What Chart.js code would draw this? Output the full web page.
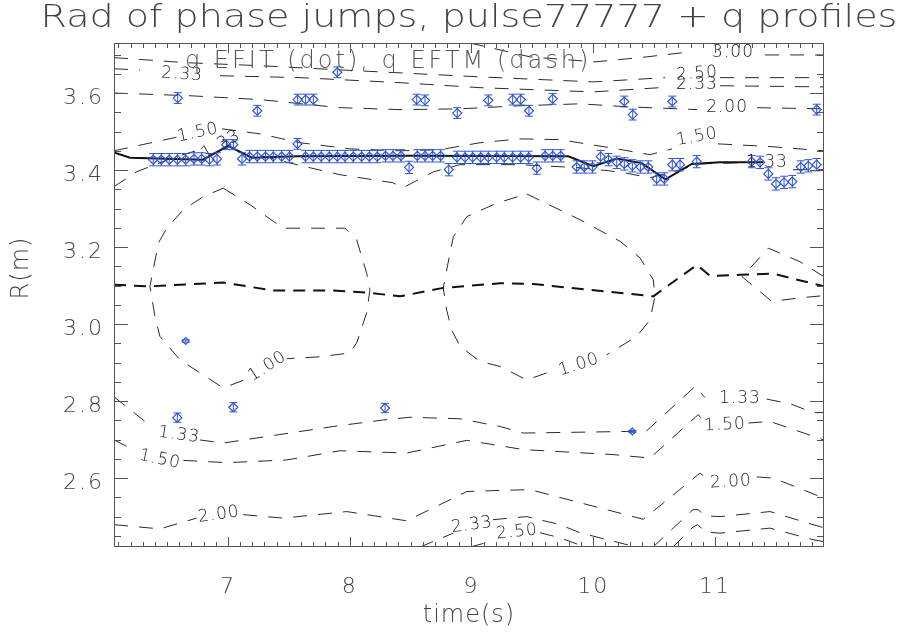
<!DOCTYPE html>
<html>
<head>
<meta charset="utf-8">
<script src="https://cdn.jsdelivr.net/npm/chart.js@4.4.0/dist/chart.umd.min.js"></script>
<style>
  html, body { margin: 0; padding: 0; background: #fff; }
  #wrap { width: 897px; height: 639px; }
</style>
</head>
<body>
<div id="wrap"><canvas id="chart" width="897" height="639"></canvas></div>
<script>
// axis ticks
const xTickValues = [7, 8, 9, 10, 11];
const yTickValues = [2.6, 2.8, 3.0, 3.2, 3.4, 3.6];

// radius of phase jumps (m) vs time (s), with error
const jumpTime = [6.386, 6.452, 6.518, 6.585, 6.587, 6.584, 6.653, 6.653, 6.721, 6.784,
  6.848, 6.910, 6.986, 7.044, 7.044, 7.115, 7.177, 7.241, 7.241, 7.308,
  7.372, 7.441, 7.505, 7.571, 7.572, 7.637, 7.638, 7.701, 7.701, 7.766,
  7.832, 7.898, 7.898, 7.961, 8.029, 8.098, 8.161, 8.226, 8.294, 8.290,
  8.355, 8.421, 8.487, 8.555, 8.550, 8.618, 8.618, 8.681, 8.747, 8.813,
  8.881, 8.883, 8.947, 9.010, 9.076, 9.138, 9.138, 9.207, 9.269, 9.338,
  9.338, 9.404, 9.404, 9.470, 9.472, 9.536, 9.604, 9.667, 9.667, 9.733,
  9.864, 9.926, 9.994, 10.061, 10.125, 10.193, 10.255, 10.255, 10.321, 10.324,
  10.321, 10.387, 10.452, 10.521, 10.584, 10.649, 10.649, 10.713, 10.850, 11.301,
  11.370, 11.438, 11.501, 11.567, 11.635, 11.704, 11.766, 11.835, 11.835];
const jumpR = [3.427, 3.427, 3.427, 3.427, 3.587, 2.757, 3.427, 2.956, 3.429, 3.429,
  3.427, 3.429, 3.466, 3.466, 2.784, 3.429, 3.435, 3.435, 3.554, 3.435,
  3.435, 3.435, 3.435, 3.468, 3.583, 3.435, 3.583, 3.435, 3.583, 3.435,
  3.435, 3.435, 3.654, 3.435, 3.435, 3.435, 3.435, 3.435, 3.437, 2.782,
  3.437, 3.437, 3.407, 3.437, 3.583, 3.437, 3.581, 3.437, 3.437, 3.401,
  3.433, 3.548, 3.433, 3.433, 3.433, 3.433, 3.581, 3.433, 3.433, 3.433,
  3.583, 3.433, 3.583, 3.433, 3.554, 3.405, 3.437, 3.437, 3.585, 3.437,
  3.408, 3.408, 3.408, 3.435, 3.427, 3.420, 3.416, 3.578, 3.411, 3.544,
  2.721, 3.408, 3.408, 3.377, 3.377, 3.414, 3.578, 3.414, 3.422, 3.422,
  3.420, 3.390, 3.364, 3.368, 3.370, 3.408, 3.411, 3.414, 3.557];
const jumpErr = [0.016, 0.016, 0.016, 0.016, 0.014, 0.012, 0.016, 0.003, 0.016, 0.016,
  0.016, 0.016, 0.013, 0.013, 0.012, 0.016, 0.016, 0.016, 0.014, 0.016,
  0.016, 0.016, 0.016, 0.014, 0.014, 0.016, 0.014, 0.016, 0.014, 0.016,
  0.016, 0.016, 0.014, 0.016, 0.016, 0.016, 0.016, 0.016, 0.016, 0.012,
  0.016, 0.016, 0.016, 0.016, 0.014, 0.016, 0.014, 0.016, 0.016, 0.016,
  0.016, 0.014, 0.016, 0.016, 0.016, 0.016, 0.014, 0.016, 0.016, 0.016,
  0.014, 0.016, 0.014, 0.016, 0.014, 0.016, 0.016, 0.016, 0.014, 0.016,
  0.016, 0.016, 0.016, 0.016, 0.016, 0.016, 0.016, 0.014, 0.016, 0.014,
  0.003, 0.016, 0.016, 0.016, 0.016, 0.016, 0.014, 0.016, 0.016, 0.016,
  0.016, 0.016, 0.016, 0.016, 0.016, 0.016, 0.016, 0.016, 0.014];

// q=1 radius from EFIT (solid)
const efitTime = [6.064, 6.195, 6.795, 7.002, 7.195, 7.564, 8.495, 9.795, 10.000, 10.193, 10.398, 10.593, 10.809, 11.041, 11.397];
const efitR = [3.446, 3.432, 3.427, 3.463, 3.432, 3.436, 3.437, 3.436, 3.410, 3.430, 3.418, 3.376, 3.416, 3.420, 3.420];

// magnetic axis (heavy dash)
const axisTime = [6.064, 6.359, 6.961, 7.372, 7.862, 8.166, 8.413, 8.768, 9.234, 9.508, 10.493, 10.852, 10.959, 11.205, 11.476, 11.895];
const axisR = [3.102, 3.098, 3.108, 3.087, 3.087, 3.081, 3.072, 3.094, 3.106, 3.104, 3.072, 3.154, 3.125, 3.128, 3.131, 3.098];

// EFTM q contours; null leaves room for the contour label
const q300T = [8.988, 9.481, 10.014, 10.384, 10.795, 11.148, 11.411, 11.895];
const q300R = [3.730, 3.694, 3.681, 3.692, 3.707, null, 3.699, 3.699];
const q250TopT = [6.064, 6.647, 7.263, 8.060, 9.070, 9.998, 10.589, 10.852, 11.041, 11.895];
const q250TopR = [3.692, 3.679, 3.671, 3.658, 3.642, 3.629, 3.640, null, 3.640, 3.640];
const q233TopT = [6.064, 6.277, 6.622, 6.934, 7.591, 8.413, 9.070, 9.998, 10.548, 10.852, 11.041, 11.895];
const q233TopR = [3.663, 3.660, null, 3.645, 3.640, 3.627, 3.614, 3.603, 3.614, null, 3.619, 3.616];
const q200TopT = [6.064, 6.688, 7.263, 7.920, 8.413, 8.906, 9.398, 9.891, 10.302, 10.852, 11.099, 11.345, 11.895];
const q200TopR = [3.600, 3.593, 3.583, 3.562, 3.557, 3.559, 3.567, 3.572, 3.564, 3.557, null, 3.562, 3.559];
const q150TopT = [6.064, 6.589, 6.754, 6.951, 7.263, 7.591, 8.002, 8.413, 8.741, 9.070, 9.398, 9.727, 10.138, 10.466, 10.647, 10.852, 11.025, 11.452, 11.895];
const q150TopR = [3.450, 3.486, null, 3.507, 3.494, 3.471, 3.455, 3.450, 3.453, 3.471, 3.481, 3.479, 3.458, 3.440, 3.455, null, 3.468, 3.461, 3.450];
const q133TopT = [6.064, 6.253, 6.565, 6.770, 6.943, 7.263, 7.591, 7.920, 8.355, 8.437, 8.684, 8.906, 9.398, 9.891, 10.220, 10.466, 10.713, 10.877, 11.205, 11.427, 11.641, 11.895];
const q133TopR = [3.357, 3.396, 3.434, 3.453, null, 3.438, 3.412, 3.388, 3.367, 3.354, 3.395, 3.414, 3.414, 3.406, 3.395, 3.380, 3.401, 3.416, 3.419, null, 3.401, 3.401];
const q100AT = [6.961, 7.181, 7.372, 7.454, 7.961, 8.057, 8.139, 8.166, 8.139, 8.057, 8.002, 7.756, 7.482, 7.324, 7.126, 6.961, 6.606, 6.441, 6.400, 6.359, 6.386, 6.428, 6.497, 6.633, 6.797, 6.961];
const q100AR = [3.353, 3.310, 3.267, 3.249, 3.249, 3.219, 3.132, 3.089, 3.029, 2.951, 2.925, 2.915, 2.910, null, 2.854, 2.834, 2.907, 2.968, 3.020, 3.098, 3.141, 3.210, 3.249, 3.297, 3.331, 3.353];
const q100BT = [9.453, 9.891, 10.220, 10.384, 10.493, 10.507, 10.466, 10.357, 10.110, 9.883, 9.618, 9.453, 9.234, 9.070, 8.906, 8.837, 8.796, 8.768, 8.823, 8.851, 8.961, 9.207, 9.453];
const q100BR = [3.338, 3.271, 3.215, 3.172, 3.115, 3.072, 3.011, 2.968, 2.920, null, 2.873, 2.855, 2.890, 2.903, 2.942, 2.985, 3.037, 3.094, 3.184, 3.227, 3.279, 3.314, 3.338];
const q100CT = [11.895, 11.698, 11.438, 11.222, 11.466, 11.698, 11.895];
const q100CR = [3.123, 3.162, 3.197, 3.123, 3.059, 3.068, 3.074];
const q133LowT = [6.064, 6.386, 6.598, 6.770, 6.961, 7.318, 7.865, 8.276, 8.495, 8.906, 9.234, 9.426, 10.275, 10.439, 10.836, 10.918, 11.205, 11.425, 11.617, 11.807, 11.895];
const q133LowR = [2.811, 2.730, null, 2.699, 2.691, 2.708, 2.734, 2.751, 2.758, 2.754, 2.734, 2.717, 2.721, 2.723, 2.838, 2.809, null, 2.805, 2.793, 2.770, 2.770];
const q150LowT = [6.064, 6.222, 6.441, 6.633, 6.989, 7.482, 7.920, 8.468, 8.961, 9.234, 9.426, 10.164, 10.466, 10.863, 10.901, 11.082, 11.274, 11.452, 11.895];
const q150LowR = [2.699, 2.674, null, 2.646, 2.640, 2.647, 2.671, 2.665, 2.698, 2.684, 2.674, 2.661, 2.652, 2.765, 2.749, null, 2.743, 2.747, 2.699];
const q200LowT = [6.064, 6.441, 6.743, 6.926, 7.126, 7.454, 7.975, 8.468, 8.961, 9.234, 9.481, 10.411, 10.877, 10.943, 11.131, 11.343, 11.479, 11.895];
const q200LowR = [2.479, 2.468, 2.496, null, 2.505, 2.496, 2.513, 2.489, 2.565, 2.568, 2.570, 2.493, 2.613, 2.596, null, 2.603, 2.600, 2.548];
const q233LowT = [8.577, 8.851, 9.004, 9.177, 9.453, 9.727, 9.891, 10.277, 10.343, 10.420, 10.491, 10.819, 10.860, 10.918, 11.041, 11.452, 11.805, 11.895];
const q233LowR = [2.421, 2.457, null, 2.492, 2.500, 2.479, 2.458, 2.427, 2.421, null, 2.421, 2.518, 2.518, 2.502, 2.500, 2.513, 2.479, 2.471];
const q250LowT = [8.988, 9.177, 9.374, 9.563, 9.727, 9.932, 10.300, 10.655, 10.819, 10.860, 10.918, 11.041, 11.452, 11.805, 11.895];
const q250LowR = [2.421, 2.437, null, 2.458, 2.445, 2.421, null, 2.421, 2.473, 2.479, 2.460, 2.457, 2.470, 2.440, 2.435];

// contour labels: text, time, radius, rotation in degrees
const contourLabels = [
  { text: '3.00', t: 11.148, r: 3.705, angle: 0 },
  { text: '2.50', t: 10.852, r: 3.650, angle: -4 },
  { text: '2.33', t: 10.852, r: 3.621, angle: 0 },
  { text: '2.33', t: 6.622, r: 3.648, angle: 4 },
  { text: '2.00', t: 11.099, r: 3.563, angle: 0 },
  { text: '1.50', t: 6.754, r: 3.497, angle: -12 },
  { text: '1.33', t: 6.943, r: 3.466, angle: -30 },
  { text: '1.50', t: 10.852, r: 3.486, angle: -10 },
  { text: '1.33', t: 11.427, r: 3.419, angle: 0 },
  { text: '1.00', t: 7.324, r: 2.890, angle: -33 },
  { text: '1.00', t: 9.883, r: 2.894, angle: -18 },
  { text: '1.33', t: 6.598, r: 2.712, angle: 8 },
  { text: '1.50', t: 6.441, r: 2.648, angle: 12 },
  { text: '1.33', t: 11.205, r: 2.806, angle: 0 },
  { text: '1.50', t: 11.082, r: 2.738, angle: -3 },
  { text: '2.00', t: 6.926, r: 2.505, angle: -8 },
  { text: '2.00', t: 11.131, r: 2.590, angle: -3 },
  { text: '2.33', t: 9.004, r: 2.478, angle: -8 },
  { text: '2.50', t: 9.374, r: 2.460, angle: -6 }
];

const FONT = "'DejaVu Sans', sans-serif";
const WEIGHT = 200;
const INK = '#444';
const JUMP_BLUE = '#2f55d4';

const toPoints = (ts, rs) => ts.map((t, i) => ({ x: t, y: rs[i] }));

function contour(ts, rs) {
  return {
    type: 'line',
    data: toPoints(ts, rs),
    borderColor: '#2a2a2a',
    borderWidth: 1,
    borderDash: [14, 11],
    pointRadius: 0,
    spanGaps: false,
    tension: 0
  };
}

// slightly open lettering for the tick labels
const wideText = {
  id: 'wideText',
  beforeDraw(chart) {
    chart.ctx.letterSpacing = '2px';
  }
};

// vertical error bars under the diamonds
const errorBars = {
  id: 'errorBars',
  beforeDatasetDraw(chart, args) {
    if (args.index !== 0) return;
    const { ctx, scales: { x, y } } = chart;
    ctx.save();
    ctx.strokeStyle = JUMP_BLUE;
    ctx.lineWidth = 1;
    ctx.beginPath();
    jumpTime.forEach((t, i) => {
      const px = x.getPixelForValue(t);
      const y0 = y.getPixelForValue(jumpR[i] - jumpErr[i]);
      const y1 = y.getPixelForValue(jumpR[i] + jumpErr[i]);
      ctx.moveTo(px, y0); ctx.lineTo(px, y1);
      ctx.moveTo(px - 4, y0); ctx.lineTo(px + 4, y0);
      ctx.moveTo(px - 4, y1); ctx.lineTo(px + 4, y1);
    });
    ctx.stroke();
    ctx.restore();
  }
};

// title, axis titles, caption and contour labels
const annotations = {
  id: 'annotations',
  afterDatasetsDraw(chart) {
    const { ctx, chartArea: a, scales: { x, y } } = chart;
    const midX = (a.left + a.right) / 2;
    ctx.save();
    ctx.fillStyle = '#222';
    ctx.letterSpacing = '1px';
    ctx.font = `${WEIGHT} 17px ${FONT}`;
    ctx.textAlign = 'center';
    ctx.textBaseline = 'middle';
    contourLabels.forEach(l => {
      ctx.save();
      ctx.translate(x.getPixelForValue(l.t), y.getPixelForValue(l.r));
      ctx.rotate(l.angle * Math.PI / 180);
      ctx.fillText(l.text, 0, 0);
      ctx.restore();
    });

    ctx.letterSpacing = '3px';
    ctx.fillStyle = '#555';
    ctx.font = `${WEIGHT} 24px ${FONT}`;
    ctx.textAlign = 'left';
    ctx.fillText('q EFIT (dot), q EFTM (dash)', a.left + 71, a.top + 19);

    // plot title, stretched wide
    ctx.save();
    ctx.letterSpacing = '0px';
    ctx.fillStyle = INK;
    ctx.font = `${WEIGHT} 32px ${FONT}`;
    ctx.textAlign = 'center';
    ctx.textBaseline = 'alphabetic';
    ctx.translate(midX, a.top - 16);
    ctx.scale(1.19, 1);
    ctx.fillText('Rad of phase jumps, pulse77777 + q profiles', 0, 0);
    ctx.restore();

    // x axis title
    ctx.fillStyle = INK;
    ctx.letterSpacing = '1px';
    ctx.font = `${WEIGHT} 24px ${FONT}`;
    ctx.textAlign = 'center';
    ctx.fillText('time(s)', midX, a.bottom + 69);

    // y axis title
    ctx.translate(22, a.top + 225);
    ctx.rotate(-Math.PI / 2);
    ctx.fillText('R(m)', 0, 0);
    ctx.restore();
  }
};

// box frame with inward major/minor ticks on all four sides
const frameTicks = {
  id: 'frameTicks',
  afterDraw(chart) {
    const { ctx, chartArea: a, scales: { x, y } } = chart;
    ctx.save();
    ctx.strokeStyle = '#555';
    ctx.lineWidth = 1;
    ctx.strokeRect(a.left + 0.5, a.top + 0.5, a.right - a.left - 1, a.bottom - a.top - 1);
    ctx.beginPath();
    for (let i = 61; i <= 118; i++) {
      const px = Math.round(x.getPixelForValue(i / 10)) + 0.5;
      const len = i % 10 === 0 ? 10 : 5;
      ctx.moveTo(px, a.bottom); ctx.lineTo(px, a.bottom - len);
      ctx.moveTo(px, a.top); ctx.lineTo(px, a.top + len);
    }
    for (let i = 245; i <= 370; i += 5) {
      const py = Math.round(y.getPixelForValue(i / 100)) + 0.5;
      const len = i % 20 === 0 ? 14 : 7;
      ctx.moveTo(a.left, py); ctx.lineTo(a.left + len, py);
      ctx.moveTo(a.right, py); ctx.lineTo(a.right - len, py);
    }
    ctx.stroke();
    ctx.restore();
  }
};

Chart.defaults.font.family = FONT;
Chart.defaults.font.weight = WEIGHT;

new Chart(document.getElementById('chart'), {
  type: 'scatter',
  data: {
    datasets: [
      {
        label: 'phase jumps',
        data: toPoints(jumpTime, jumpR),
        pointStyle: 'rectRot',
        pointRadius: ctx => (jumpErr[ctx.dataIndex] < 0.005 ? 3.5 : 4.5),
        borderColor: JUMP_BLUE,
        backgroundColor: 'rgba(0,0,0,0)',
        borderWidth: 1.2
      },
      {
        type: 'line',
        label: 'q EFIT',
        data: toPoints(efitTime, efitR),
        borderColor: '#111',
        borderWidth: 2,
        pointRadius: 0,
        tension: 0
      },
      {
        type: 'line',
        label: 'axis',
        data: toPoints(axisTime, axisR),
        borderColor: '#111',
        borderWidth: 2,
        borderDash: [12, 8],
        pointRadius: 0,
        tension: 0
      },
      contour(q300T, q300R),
      contour(q250TopT, q250TopR),
      contour(q233TopT, q233TopR),
      contour(q200TopT, q200TopR),
      contour(q150TopT, q150TopR),
      contour(q133TopT, q133TopR),
      contour(q100AT, q100AR),
      contour(q100BT, q100BR),
      contour(q100CT, q100CR),
      contour(q133LowT, q133LowR),
      contour(q150LowT, q150LowR),
      contour(q200LowT, q200LowR),
      contour(q233LowT, q233LowR),
      contour(q250LowT, q250LowR)
    ]
  },
  options: {
    responsive: false,
    animation: false,
    devicePixelRatio: 1,
    events: [],
    layout: { padding: { left: 0, right: 73, top: 43, bottom: 0 } },
    plugins: {
      legend: { display: false },
      tooltip: { enabled: false },
      title: { display: false }
    },
    scales: {
      x: {
        type: 'linear',
        position: 'bottom',
        min: 6.064,
        max: 11.895,
        afterBuildTicks: s => { s.ticks = xTickValues.map(v => ({ value: v })); },
        afterFit: s => { s.height = 92; },
        grid: { display: false, drawTicks: false },
        border: { display: false },
        ticks: { color: INK, font: { size: 22 }, padding: 27, maxRotation: 0, callback: v => String(v) }
      },
      y: {
        type: 'linear',
        position: 'left',
        min: 2.421,
        max: 3.730,
        afterBuildTicks: s => { s.ticks = yTickValues.map(v => ({ value: v })); },
        afterFit: s => { s.width = 114; },
        grid: { display: false, drawTicks: false },
        border: { display: false },
        ticks: { color: INK, font: { size: 22 }, padding: 10, labelOffset: 5, callback: v => v.toFixed(1) }
      }
    }
  },
  plugins: [wideText, errorBars, annotations, frameTicks]
});
</script>
</body>
</html>
